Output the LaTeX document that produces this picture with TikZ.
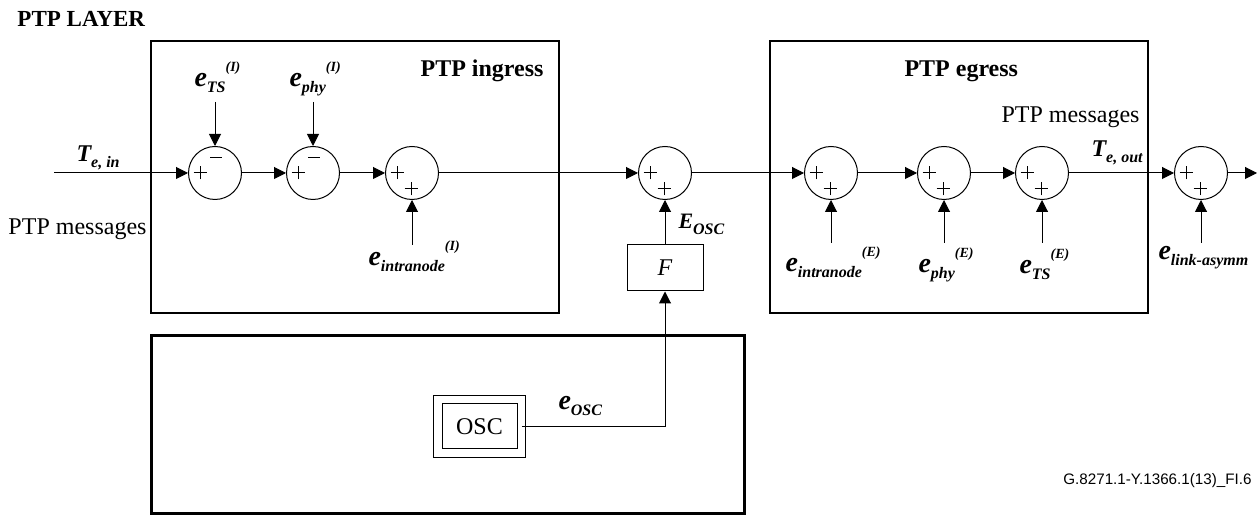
\documentclass[tikz,border=0pt]{standalone}
\usepackage{fontspec}
\setmainfont{Liberation Serif}
\newfontfamily\figfont{Liberation Sans}
\usetikzlibrary{arrows.meta}

\newcommand{\errsym}[4][14]{{\bfseries\itshape\fontsize{#1}{#1}\selectfont #2\raisebox{-3pt}{\fontsize{8}{8}\selectfont #3}\raisebox{7.5pt}{\fontsize{7}{7}\selectfont #4}}}

\tikzset{
  sum/.style={draw, circle, minimum size=26.5pt, inner sep=0pt},
  lbl/.style={inner sep=0pt, anchor=base west},
  txt/.style={inner sep=0pt, font=\fontsize{12}{14}\selectfont},
  head/.style={inner sep=0pt, font=\bfseries\fontsize{12}{14}\selectfont},
  >={Triangle[length=6pt,width=6pt]},
}

\begin{document}
\begin{tikzpicture}[x=0.5pt, y=-0.5pt, line width=0.5pt]
  \useasboundingbox (0,0) rectangle (1258,517);

  \draw[line width=0.6pt] (151,41) rectangle (559,313);
  \draw[line width=0.6pt] (770,41) rectangle (1148,313);
  \draw[line width=1.5pt] (151,336) rectangle (744,514);

  \node[head, anchor=base west] (layer) at (17,27) {\fontsize{11.5}{14}\selectfont PTP LAYER};
  \node[head, anchor=base east] (ingress) at (544,77) {PTP ingress};
  \node[head, anchor=base west] (egress) at (904,77) {PTP egress};
  \node[txt, anchor=base west] (msgin) at (8,235) {PTP messages};
  \node[txt, anchor=base west] (msgout) at (1001,123) {PTP messages};

  \node[sum] (sumts) at (215,173) {};
  \node[sum] (sumphy) at (313,173) {};
  \node[sum] (sumint) at (412,173) {};
  \node[sum] (sumosc) at (665,173) {};
  \node[sum] (sumeint) at (831,173) {};
  \node[sum] (sumephy) at (944,173) {};
  \node[sum] (sumets) at (1042,173) {};
  \node[sum] (sumlink) at (1201,173) {};

  \foreach \s in {sumts, sumphy} {
    \draw ([xshift=-7.5pt]\s.center) +(-3.25pt,0pt) -- +(3.25pt,0pt) +(0pt,-3.25pt) -- +(0pt,3.25pt);
    \draw ([shift={(0.5pt,7.5pt)}]\s.center) +(-3pt,0pt) -- +(3pt,0pt);
  }
  \foreach \s in {sumint, sumosc, sumeint, sumephy, sumets, sumlink} {
    \draw ([xshift=-7.5pt]\s.center) +(-3.25pt,0pt) -- +(3.25pt,0pt) +(0pt,-3.25pt) -- +(0pt,3.25pt);
    \draw ([shift={(-0.5pt,-8pt)}]\s.center) +(-3.25pt,0pt) -- +(3.25pt,0pt) +(0pt,-3.25pt) -- +(0pt,3.25pt);
  }

  \node[draw, minimum width=38pt, minimum height=23pt, inner sep=0pt, font=\itshape\fontsize{12}{14}\selectfont] (filt) at (665,268) {F};
  \node[draw, double, double distance=3.75pt, minimum width=41.75pt, minimum height=26.75pt, inner sep=0pt, font=\fontsize{12}{14}\selectfont] (osc) at (479.5,426.5) {OSC};

  \coordinate (tein) at (54,173);
  \coordinate (teout) at (1257,173);
  \coordinate (ints) at (215,102);
  \coordinate (inphy) at (313,102);
  \coordinate (inint) at (412,245);
  \coordinate (ineint) at (831,243);
  \coordinate (inephy) at (944,243);
  \coordinate (inets) at (1042,243);
  \coordinate (inlink) at (1201,243);

  \node[lbl] (lte) at (76,162) {\errsym[12]{T}{e, in}{}};
  \node[lbl] (ltout) at (1091,157) {\errsym[12]{T}{e, out}{}};
  \node[lbl] (lts) at (194,87) {\errsym{e}{TS}{(I)}};
  \node[lbl] (lphy) at (289,87) {\errsym{e}{phy}{(I)}};
  \node[lbl] (lint) at (368,266) {\errsym{e}{intranode}{(I)}};
  \node[lbl] (leint) at (785,272) {\errsym{e}{intranode}{(E)}};
  \node[lbl] (lephy) at (918,273) {\errsym{e}{phy}{(E)}};
  \node[lbl] (lets) at (1019,274) {\errsym{e}{TS}{(E)}};
  \node[lbl] (llink) at (1158,260) {\errsym{e}{link-asymm}{}};
  \node[lbl] (lbigosc) at (678,229) {\errsym[11]{E}{OSC}{}};
  \node[lbl] (losc) at (558,410) {\errsym{e}{OSC}{}};

  \draw[->] (tein) -- (sumts);
  \draw[->] (sumts) -- (sumphy);
  \draw[->] (sumphy) -- (sumint);
  \draw[->] (sumint) -- (sumosc);
  \draw[->] (sumosc) -- (sumeint);
  \draw[->] (sumeint) -- (sumephy);
  \draw[->] (sumephy) -- (sumets);
  \draw[->] (sumets) -- (sumlink);
  \draw[->] (sumlink) -- (teout);

  \draw[->] (ints) -- (sumts);
  \draw[->] (inphy) -- (sumphy);
  \draw[->] (inint) -- (sumint);
  \draw[->] (ineint) -- (sumeint);
  \draw[->] (inephy) -- (sumephy);
  \draw[->] (inets) -- (sumets);
  \draw[->] (inlink) -- (sumlink);

  \draw[->] (filt) -- (sumosc);
  \draw[->] (osc.east) -| (filt.south);

  \node[anchor=base east, inner sep=0pt, font=\figfont\fontsize{7.6}{9}\selectfont] (figid) at (1252,485) {G.8271.1-Y.1366.1(13)\_FI.6};
\end{tikzpicture}
\end{document}
